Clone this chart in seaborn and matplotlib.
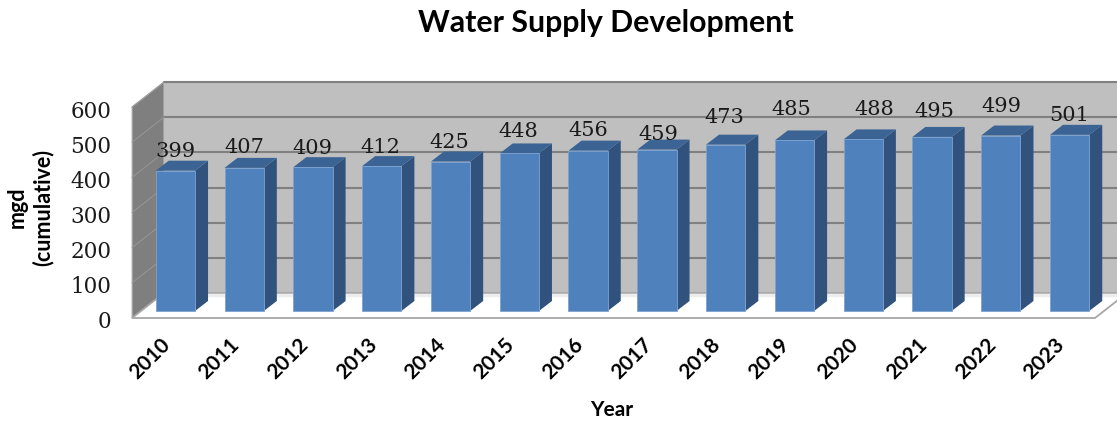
import matplotlib
matplotlib.use("Agg")
import matplotlib.pyplot as plt
import pandas as pd
import seaborn as sns
from matplotlib.patches import Polygon
from matplotlib.transforms import Affine2D

# Values
years = ["2010", "2011", "2012", "2013", "2014", "2015", "2016",
         "2017", "2018", "2019", "2020", "2021", "2022", "2023"]
supply = [399, 407, 409, 412, 425, 448, 456, 459, 473, 485, 488, 495, 499, 501]
y_ticks = [0, 100, 200, 300, 400, 500, 600]

# Hand placed label nudges (px above the bar top / px to the right)
label_up = [19, 20, 19, 19, 19, 22, 20, 15, 27, 31, 30, 25, 29, 19]
label_right = [0, 0, -1, -1, -1, -1, 0, 1, -1, -3, 11, 2, 1, 0]

W, H = 1117, 421
DPI = 100
# Front plane of the fake 3D box, in pixels
LEFT, RIGHT, BOTTOM, TOP = 132, 1095, 318, 107

df = pd.DataFrame({"year": years, "supply": supply})

sns.set_style("white")
fig = plt.figure(figsize=(W / DPI, H / DPI), dpi=DPI)
ax = fig.add_axes([LEFT / W, 1 - BOTTOM / H, (RIGHT - LEFT) / W, (BOTTOM - TOP) / H])

sns.barplot(data=df, x="year", y="supply", color="#4F81BD", saturation=1,
            width=0.571, ax=ax, zorder=5)
ax.set_xlim(-0.5, 13.5)
ax.set_ylim(0, 600)

# pixels to data units
px_x = 14 / (RIGHT - LEFT)
px_y = 600 / (BOTTOM - TOP)
wall_dx, wall_dy = 32 * px_x, 25 * px_y
shift_dx, shift_dy = 9 * px_x, 7 * px_y
bar_dx, bar_dy = 13 * px_x, 10 * px_y


def face(pts, color, z, edge="none", lw=0):
    ax.add_patch(Polygon(pts, closed=True, facecolor=color, edgecolor=edge,
                         linewidth=lw, zorder=z, clip_on=False))


x0, x1 = -0.5, 13.5
# back wall, left wall, floor
face([(x0 + wall_dx, wall_dy), (x1 + wall_dx, wall_dy),
      (x1 + wall_dx, 600 + wall_dy), (x0 + wall_dx, 600 + wall_dy)], "#BFBFBF", 1)
face([(x0, 0), (x0 + wall_dx, wall_dy), (x0 + wall_dx, 600 + wall_dy), (x0, 600)],
     "#7F7F7F", 1, edge="#BDBDBD", lw=0.8)
face([(x0, 0), (x1, 0), (x1 + wall_dx, wall_dy), (x0 + wall_dx, wall_dy)],
     "white", 2, edge="#A6A6A6", lw=1.3)
ax.plot([x0 + wall_dx + 0.005, x1 + wall_dx], [wall_dy - 1.5 * px_y] * 2,
        color="#EDEDED", lw=2.5, zorder=2.5, clip_on=False)

# gridlines on the walls
for t in y_ticks[1:]:
    ax.plot([x0 + wall_dx, x1 + wall_dx], [t + wall_dy] * 2, color="#808080",
            lw=1.5, zorder=1.5, clip_on=False)
    ax.plot([x0, x0 + wall_dx], [t, t + wall_dy], color="#979797", lw=0.7,
            zorder=1.5, clip_on=False)

# move bars onto the floor, add top and side faces
for i, bar in enumerate(ax.patches[:len(years)]):
    bar.set_x(bar.get_x() + shift_dx)
    bar.set_y(shift_dy)
    bar.set_edgecolor("#7DA3D4")
    bar.set_linewidth(0.6)
    xa, xb = bar.get_x(), bar.get_x() + bar.get_width()
    ya, yb = shift_dy, shift_dy + bar.get_height()
    face([(xb, ya), (xb + bar_dx, ya + bar_dy), (xb + bar_dx, yb + bar_dy), (xb, yb)],
         "#30527C", 4)
    face([(xa, yb), (xb, yb), (xb + bar_dx, yb + bar_dy), (xa + bar_dx, yb + bar_dy)],
         "#3B6494", 4)
    ax.text((xa + xb) / 2 + label_right[i] * px_x, yb + label_up[i] * px_y, supply[i],
            ha="center", va="center", family="DejaVu Serif", fontsize=15,
            color="#1A1A1A", zorder=6, clip_on=False)

sns.despine(ax=ax, left=True, bottom=True)
ax.set_yticks(y_ticks)
ax.set_yticklabels(y_ticks, family="DejaVu Serif", fontsize=15.5, color="#1A1A1A")
ax.tick_params(axis="y", length=0, pad=15)
for lab in ax.get_yticklabels():
    lab.set_transform(lab.get_transform() + Affine2D().translate(0, -2))
ax.set_xticks(range(len(years)))
ax.set_xticklabels(years, rotation=45, ha="right", rotation_mode="anchor",
                   family="Lato", fontweight="bold", fontsize=15, color="black")
ax.tick_params(axis="x", length=0, pad=12)
for lab in ax.get_xticklabels():
    lab.set_transform(lab.get_transform() + Affine2D().translate(-6, 0))
ax.set_xlabel("")
ax.set_ylabel("")

fig.text(606 / W, 1 - 23 / H, "Water Supply Development", ha="center", va="center",
         family="Lato", fontweight="bold", fontsize=21.8, color="black")
fig.text(612 / W, 1 - 410 / H, "Year", ha="center", va="center",
         family="Lato", fontweight="bold", fontsize=15, color="black")
fig.text(30 / W, 1 - 207 / H, "mgd\n(cumulative)", ha="center", va="center",
         rotation=90, family="Lato", fontweight="bold", fontsize=15.5, color="black")

fig.savefig("out.png", dpi=DPI, facecolor="white")
